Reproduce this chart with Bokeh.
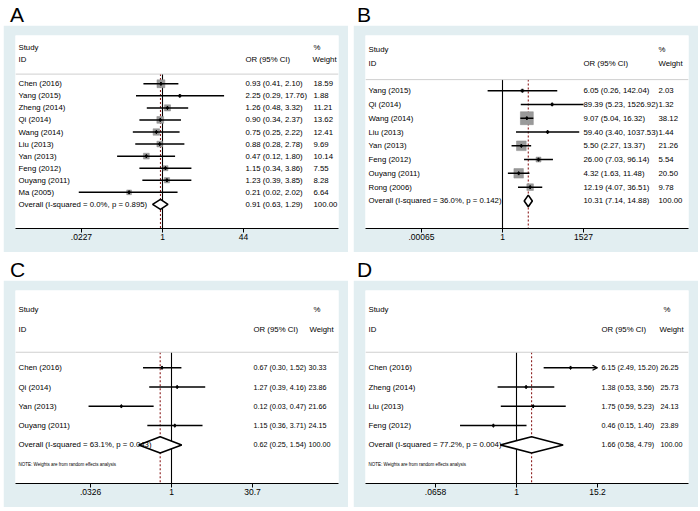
import math
from bokeh.plotting import figure
from bokeh.models import (Range1d, LinearScale, FixedTicker, ColumnDataSource, Arrow, OpenHead,
                          Span, Div)
from bokeh.layouts import row, column
from bokeh.embed import file_html
from bokeh.resources import INLINE
from bokeh.core.properties import value

# ---------------- data ----------------
# Panel A
a_studies = ["Chen  (2016)", "Yang  (2015)", "Zheng (2014)", "Qi (2014)", "Wang (2014)",
             "Liu (2013)", "Yan (2013)", "Feng (2012)", "Ouyang  (2011)", "Ma (2005)"]
a_or = [0.93, 2.25, 1.26, 0.90, 0.75, 0.88, 0.47, 1.15, 1.23, 0.21]
a_lo = [0.41, 0.29, 0.48, 0.34, 0.25, 0.28, 0.12, 0.34, 0.39, 0.02]
a_hi = [2.10, 17.76, 3.32, 2.37, 2.22, 2.78, 1.80, 3.86, 3.85, 2.02]
a_weight = [18.59, 1.88, 11.21, 13.62, 12.41, 9.69, 10.14, 7.55, 8.28, 6.64]
a_overall = [0.91, 0.63, 1.29]
a_overall_label = "Overall  (I-squared = 0.0%, p = 0.895)"
a_ticks = [0.0227, 1.0, 44.0]
a_tick_labels = [".0227", "1", "44"]

# Panel B
b_studies = ["Yang  (2015)", "Qi (2014)", "Wang (2014)", "Liu (2013)", "Yan (2013)",
             "Feng (2012)", "Ouyang  (2011)", "Rong (2006)"]
b_or = [6.05, 89.39, 9.07, 59.40, 5.50, 26.00, 4.32, 12.19]
b_lo = [0.26, 5.23, 5.04, 3.40, 2.27, 7.03, 1.63, 4.07]
b_hi = [142.04, 1526.92, 16.32, 1037.53, 13.37, 96.14, 11.48, 36.51]
b_weight = [2.03, 1.32, 38.12, 1.44, 21.26, 5.54, 20.50, 9.78]
b_overall = [10.31, 7.14, 14.88]
b_overall_label = "Overall  (I-squared = 36.0%, p = 0.142)"
b_ticks = [0.00065, 1.0, 1527.0]
b_tick_labels = [".00065", "1", "1527"]

# Panel C
c_studies = ["Chen  (2016)", "Qi (2014)", "Yan (2013)", "Ouyang  (2011)"]
c_or = [0.67, 1.27, 0.12, 1.15]
c_lo = [0.30, 0.39, 0.03, 0.36]
c_hi = [1.52, 4.16, 0.47, 3.71]
c_weight = [30.33, 23.86, 21.66, 24.15]
c_overall = [0.62, 0.25, 1.54]
c_overall_label = "Overall  (I-squared = 63.1%, p = 0.043)"
c_ticks = [0.0326, 1.0, 30.7]
c_tick_labels = [".0326", "1", "30.7"]

# Panel D
d_studies = ["Chen  (2016)", "Zheng (2014)", "Liu (2013)", "Feng (2012)"]
d_or = [6.15, 1.38, 1.75, 0.46]
d_lo = [2.49, 0.53, 0.59, 0.15]
d_hi = [15.20, 3.56, 5.23, 1.40]
d_weight = [26.25, 25.73, 24.13, 23.89]
d_overall = [1.66, 0.58, 4.79]
d_overall_label = "Overall  (I-squared = 77.2%, p = 0.004)"
d_ticks = [0.0658, 1.0, 15.2]
d_tick_labels = [".0658", "1", "15.2"]

note_text = "NOTE: Weights are from random effects analysis"

# ---------------- styling ----------------
FONT = value("Liberation Sans")
BLUE = "#e2eef1"
PW, PH, LH = 345, 227, 25
BL, BR, BT, BB = 12, 10, 10, 24
REFW = float(PW - BL - BR)


def letter_div(letter, lx):
    html = ('<div style="font-family: \'Liberation Sans\', Arial, sans-serif; font-size: 21px; '
            'line-height: 21px; padding: 4px 0 0 %dpx; margin: 0; color: black;">%s</div>'
            % (lx, letter))
    return Div(text=html, width=PW, height=LH, margin=0)


def forest(studies, est, lo, hi, weight, overall, overall_label, ticks, tick_labels,
           boxes, note, one_px, col_or, col_w, col_pct, col_wh, val_size):
    n = len(studies)
    N = n + 6
    s = 81.0 / math.log(ticks[2])
    xr = Range1d(math.exp(-one_px / s), math.exp((REFW - one_px) / s))
    p = figure(width=PW, height=PH, toolbar_location=None, output_backend="svg", title=None,
               x_axis_type="log", x_range=xr, y_range=Range1d(N, 0),
               x_axis_location="below", y_axis_location=None,
               min_border_left=BL, min_border_right=BR, min_border_top=BT, min_border_bottom=BB)
    p.extra_x_ranges = {"px": Range1d(0, REFW)}
    p.extra_x_scales = {"px": LinearScale()}
    p.background_fill_color = "white"
    p.border_fill_color = BLUE
    p.outline_line_color = None
    p.grid.visible = False

    ax = p.xaxis[0]
    ax.ticker = FixedTicker(ticks=ticks)
    ax.major_label_overrides = {t: l for t, l in zip(ticks, tick_labels)}
    ax.minor_tick_line_color = None
    ax.major_tick_in = 0
    ax.major_tick_out = 4
    ax.major_label_standoff = 1
    ax.axis_line_color = "black"
    ax.major_tick_line_color = "black"
    ax.major_label_text_font = "Liberation Sans"
    ax.major_label_text_font_size = "8.5px"
    ax.major_label_text_color = "black"

    sep = 3.2
    p.add_layout(Span(location=sep, dimension="width", line_color="#cfcfcf", line_width=1))

    ys = [4 + i for i in range(n)]
    yo = 4 + n
    row_px = (PH - BT - BB) / N

    # reference lines
    p.segment(x0=[1.0], x1=[1.0], y0=[sep], y1=[N], line_color="black", line_width=1.1)
    p.segment(x0=[overall[0]], x1=[overall[0]], y0=[sep], y1=[N], line_color="#8b1c1c",
              line_width=1.1, line_dash="2 2")

    if boxes:
        sizes = [0.152 * row_px * math.sqrt(w) for w in weight]
        p.scatter(x=est, y=ys, size=sizes, marker="square", fill_color="#9a9a9a",
                  line_color="#8a8a8a", line_width=0.5)

    arrow_rows = [i for i in range(n) if hi[i] >= ticks[2]]
    line_rows = [i for i in range(n) if hi[i] < ticks[2]]
    p.segment(x0=[lo[i] for i in line_rows], x1=[hi[i] for i in line_rows],
              y0=[ys[i] for i in line_rows], y1=[ys[i] for i in line_rows],
              line_color="black", line_width=1.5)
    if arrow_rows:
        src = ColumnDataSource(dict(x0=[lo[i] for i in arrow_rows], x1=[hi[i] for i in arrow_rows],
                                    y=[ys[i] for i in arrow_rows]))
        p.add_layout(Arrow(end=OpenHead(size=5, line_width=1.2, line_color="black"),
                           x_start="x0", y_start="y", x_end="x1", y_end="y", source=src,
                           line_color="black", line_width=1.5))
    p.scatter(x=est, y=ys, size=3.5, marker="diamond", fill_color="black", line_color="black")

    # overall diamond
    h = 0.42
    p.patch(x=[overall[1], overall[0], overall[2], overall[0]], y=[yo, yo - h, yo, yo + h],
            fill_color="white", line_color="black", line_width=1.6)

    # text columns
    lkw = dict(text_font=FONT, text_font_size="7.8px", text_baseline="middle",
               text_color="black", x_range_name="px")
    vkw = dict(lkw, text_font_size=val_size)
    p.text(x=[3] * n, y=ys, text=studies, **lkw)
    p.text(x=[3], y=[yo], text=[overall_label], **lkw)
    or_txt = [f"{e:.2f} ({l:.2f}, {u:.2f})" for e, l, u in zip(est, lo, hi)]
    or_txt.append(f"{overall[0]:.2f} ({overall[1]:.2f}, {overall[2]:.2f})")
    p.text(x=[col_or] * (n + 1), y=ys + [yo], text=or_txt, **vkw)
    w_txt = [f"{w:.2f}" for w in weight] + ["100.00"]
    p.text(x=[col_w] * (n + 1), y=ys + [yo], text=w_txt, **vkw)
    p.text(x=[3, 3, col_or, col_pct, col_wh], y=[1, 2, 2, 1, 2],
           text=["Study", "ID", "OR (95% CI)", "%", "Weight"], **lkw)
    if note:
        p.text(x=[3], y=[n + 5], text=[note_text], text_font=FONT, text_font_size="4.5px",
               text_baseline="middle", text_color="black", x_range_name="px")
    return p


fA = forest(a_studies, a_or, a_lo, a_hi, a_weight, a_overall, a_overall_label, a_ticks, a_tick_labels,
            True, False, 147, 230, 298, 298, 297, "7.8px")
fB = forest(b_studies, b_or, b_lo, b_hi, b_weight, b_overall, b_overall_label, b_ticks, b_tick_labels,
            True, False, 137, 218, 293, 293, 293, "7.8px")
fC = forest(c_studies, c_or, c_lo, c_hi, c_weight, c_overall, c_overall_label, c_ticks, c_tick_labels,
            False, True, 156, 238, 293, 298, 294, "7.2px")
fD = forest(d_studies, d_or, d_lo, d_hi, d_weight, d_overall, d_overall_label, d_ticks, d_tick_labels,
            False, True, 151, 236, 295, 298, 294, "7.2px")

pA = column(letter_div("A", 7), fA, spacing=0)
pB = column(letter_div("B", 4), fB, spacing=0)
pC = column(letter_div("C", 7), fC, spacing=0)
pD = column(letter_div("D", 4), fD, spacing=0)

layout = column(row(pA, pB, spacing=5), row(pC, pD, spacing=5), spacing=3,
                margin=(0, 0, 0, 3))

open("out.html", "w").write(file_html(layout, INLINE))
